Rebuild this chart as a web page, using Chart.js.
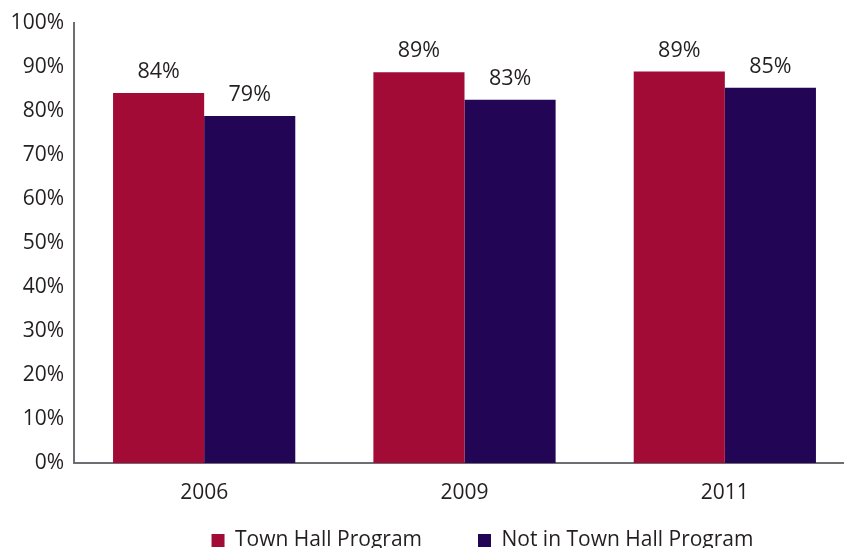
<!DOCTYPE html>
<html>
<head>
<meta charset="utf-8">
<script src="https://cdn.jsdelivr.net/npm/chart.js@4"></script>
<style>
  html, body { margin: 0; padding: 0; background: #fff; overflow: hidden; }
  #wrap { width: 855px; height: 598px; }
</style>
</head>
<body>
<div id="wrap"><canvas id="chart"></canvas></div>
<script>
// Chart data
const years = ["2006", "2009", "2011"];
const townHall = [84.0, 88.7, 88.9];
const notTownHall = [78.8, 82.5, 85.2];
const townHallLabels = ["84%", "89%", "89%"];
const notTownHallLabels = ["79%", "83%", "85%"];

const fontFamily = "'Open Sans', sans-serif";
const textColor = "#231f20";

// Small plugin that writes the percentage above each bar
const barLabels = {
  id: "barLabels",
  afterDatasetsDraw(chart) {
    const ctx = chart.ctx;
    ctx.save();
    ctx.font = "21.5px " + fontFamily;
    ctx.fillStyle = textColor;
    ctx.textAlign = "center";
    ctx.textBaseline = "middle";
    chart.data.datasets.forEach(function (ds, i) {
      chart.getDatasetMeta(i).data.forEach(function (bar, j) {
        ctx.fillText(ds.valueLabels[j], bar.x, bar.y - 21);
      });
    });
    ctx.restore();
  }
};

// Pull the legend up closer to the year labels and nudge it right
const legendShift = {
  id: "legendShift",
  afterLayout(chart) {
    const lg = chart.legend;
    lg.top -= 37;
    lg.bottom -= 37;
    lg.left += 18;
    lg.right += 18;
  }
};

new Chart(document.getElementById("chart"), {
  type: "bar",
  data: {
    labels: years,
    datasets: [
      {
        label: "Town Hall Program",
        data: townHall,
        valueLabels: townHallLabels,
        backgroundColor: "#a20b35"
      },
      {
        label: "Not in Town Hall Program",
        data: notTownHall,
        valueLabels: notTownHallLabels,
        backgroundColor: "#230555"
      }
    ]
  },
  options: {
    responsive: true,
    maintainAspectRatio: false,
    animation: false,
    devicePixelRatio: 1,
    layout: { padding: { top: 21, left: 0, right: 0, bottom: 0 } },
    datasets: {
      bar: { categoryPercentage: 0.7, barPercentage: 1.0 }
    },
    plugins: {
      legend: {
        position: "bottom",
        fullSize: false,
        maxHeight: 87,
        labels: {
          font: { family: fontFamily, size: 21 },
          color: textColor,
          boxWidth: 13,
          boxHeight: 13,
          padding: 56
        }
      },
      tooltip: { enabled: false }
    },
    scales: {
      x: {
        grid: { display: false, drawTicks: false },
        border: { color: "#6d6e71", width: 2 },
        ticks: {
          font: { family: fontFamily, size: 21 },
          color: textColor,
          padding: 17
        },
        afterFit(scale) { scale.height = 48; }
      },
      y: {
        min: 0,
        max: 100,
        grid: { display: false, drawTicks: false },
        border: { color: "#6d6e71", width: 2 },
        ticks: {
          stepSize: 10,
          font: { family: fontFamily, size: 21 },
          color: textColor,
          padding: 10,
          callback: function (v) { return v + "%"; }
        },
        afterFit(scale) { scale.width = 74; }
      }
    }
  },
  plugins: [barLabels, legendShift]
});
</script>
</body>
</html>
